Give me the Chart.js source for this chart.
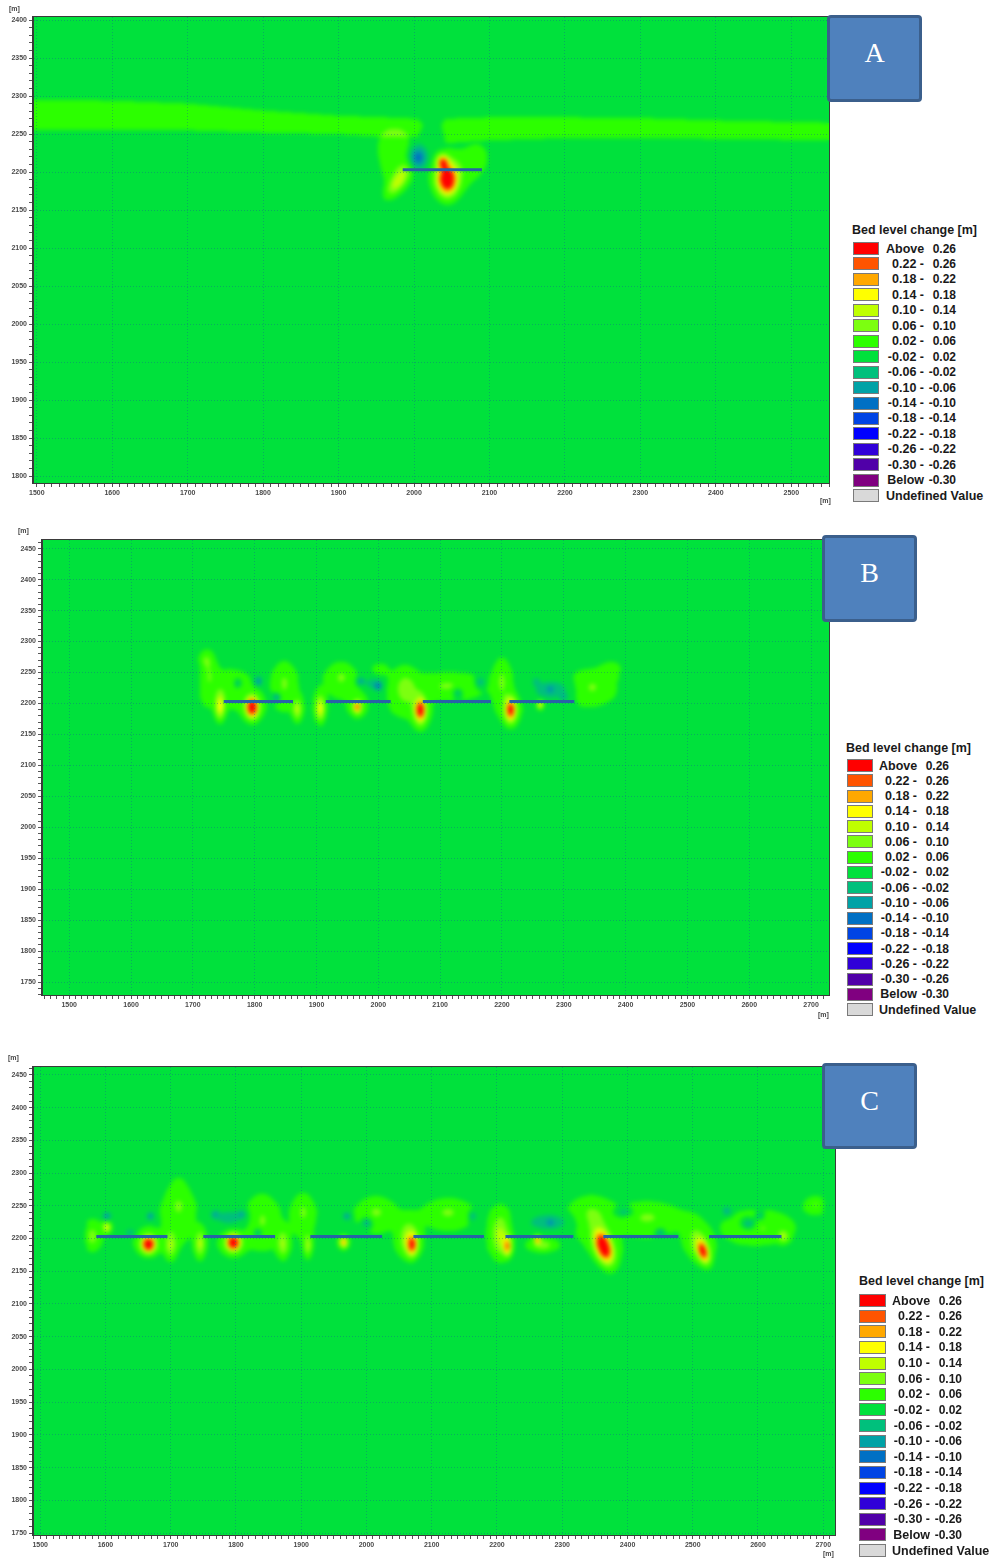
<!DOCTYPE html>
<html>
<head>
<meta charset="utf-8">
<title>Bed level change</title>
<script src="https://cdn.jsdelivr.net/npm/chart.js@4.4.0/dist/chart.umd.min.js"></script>
<style>
  html, body { margin: 0; padding: 0; background: #fff; }
  #page { position: relative; width: 993px; height: 1558px; overflow: hidden; font-family: "Liberation Sans", Arial, sans-serif; }
  #page canvas { position: absolute; }
  .unit { position: absolute; font-size: 7px; font-weight: bold; color: #444; line-height: 8px; white-space: nowrap; }
  .tag { position: absolute; box-sizing: border-box; background: #4f81bd; border: 3px solid #3b5f8c; border-radius: 4px;
         color: #fff; font-family: "Liberation Serif", "DejaVu Serif", serif; font-size: 28px; line-height: 28px; text-align: center; padding-top: 21px; }
  .legend { position: absolute; left: 0; top: 0; font-size: 12.5px; font-weight: bold; color: #1a1a1a; }
  .legend div, .legend span { position: absolute; white-space: nowrap; line-height: 14px; }
  .legend .num { font-size: 12px; }
  .legend .sw { box-sizing: border-box; border: 1px solid #7a7a7a; height: 13px; }
</style>
</head>
<body>
<div id="page">
  <canvas id="panelA" width="840" height="510" style="left:0;top:0"></canvas>
  <canvas id="panelB" width="840" height="502" style="left:0;top:520px"></canvas>
  <canvas id="panelC" width="845" height="513" style="left:0;top:1045px"></canvas>
</div>
<script>
// ---- classes of bed level change [m] ----
const classBreaks = [0.26, 0.22, 0.18, 0.14, 0.10, 0.06, 0.02, -0.02, -0.06, -0.10, -0.14, -0.18, -0.22, -0.26, -0.30];
const classColors = ['#ff0000', '#ff5400', '#ffa800', '#ffff00', '#bfff00', '#7cff10', '#2cff00', '#00e13c',
                     '#00c07c', '#00a2a6', '#0070c4', '#0044e4', '#0000ff', '#3000d8', '#5000a8', '#800080', '#d9d9d9'];
const legendLeft = ['Above', '0.22 -', '0.18 -', '0.14 -', '0.10 -', '0.06 -', '0.02 -', '-0.02 -', '-0.06 -',
                    '-0.10 -', '-0.14 -', '-0.18 -', '-0.22 -', '-0.26 -', '-0.30 -', 'Below', 'Undefined Value'];
const legendRight = ['0.26', '0.26', '0.22', '0.18', '0.14', '0.10', '0.06', '0.02', '-0.02',
                     '-0.06', '-0.10', '-0.14', '-0.18', '-0.22', '-0.26', '-0.30', ''];
const legendTitle = 'Bed level change [m]';

// ---- axis ticks ----
const xTicksA = [1500, 1600, 1700, 1800, 1900, 2000, 2100, 2200, 2300, 2400, 2500];
const yTicksA = [1800, 1850, 1900, 1950, 2000, 2050, 2100, 2150, 2200, 2250, 2300, 2350, 2400];
const xTicksBC = [1500, 1600, 1700, 1800, 1900, 2000, 2100, 2200, 2300, 2400, 2500, 2600, 2700];
const yTicksBC = [1750, 1800, 1850, 1900, 1950, 2000, 2050, 2100, 2150, 2200, 2250, 2300, 2350, 2400, 2450];

// ---- breakwaters: [x start, x end] along the crest line ----
const crestY = 2203;
const breakwatersA = [[1985, 2090]];
const breakwatersB = [[1750, 1862], [1915, 2020], [2072, 2182], [2212, 2317]];
const breakwatersC = [[1586, 1695], [1750, 1860], [1914, 2024], [2072, 2180], [2213, 2317], [2363, 2478], [2525, 2636]];

// ---- accretion bands (edges in m) ----
const bandAX      = [1495, 1600, 1700, 1800, 1900, 1960, 2005, 2012, 2036, 2042, 2100, 2200, 2300, 2400, 2550];
const bandATop    = [2295, 2294, 2290, 2281, 2274, 2272, 2270, 2262, 2262, 2270, 2272, 2272, 2271, 2268, 2265];
const bandABottom = [2255, 2255, 2255, 2252, 2250, 2246, 2246, 2262, 2262, 2238, 2242, 2245, 2245, 2244, 2242];
const bandBX      = [1712, 1760, 1900, 2050, 2200, 2330, 2390];
const bandBTop    = [2268, 2264, 2262, 2258, 2262, 2262, 2258];
const bandBBottom = [2182, 2176, 2175, 2170, 2172, 2180, 2196];
const bandCX      = [1572, 1700, 1900, 2100, 2300, 2500, 2700];
const bandCTop    = [2236, 2266, 2262, 2258, 2260, 2256, 2262];
const bandCBottom = [2182, 2172, 2172, 2170, 2170, 2170, 2186];

// ---- erosion / deposition patches: [x, y, spread x, spread y, change, tilt deg] ----
const blobsA = [
  [2044, 2190, 8, 12, 0.32],
  [2044, 2190, 13, 19, 0.05],
  [2038, 2213, 5, 6, 0.21],
  [2005, 2219, 8, 10, -0.14],
  [1979, 2188, 6, 15, 0.11, 35],
  [1978, 2212, 17, 25, 0.045],
  [1972, 2238, 14, 14, 0.03],
  [2058, 2205, 24, 19, 0.04],
  [2084, 2222, 10, 12, 0.03]
];
const blobsB = [
  [1796, 2194, 6, 10, 0.32],
  [1796, 2192, 11, 16, 0.05],
  [1744, 2195, 5, 14, 0.15],
  [1726, 2245, 9, 26, 0.045],
  [1720, 2272, 8, 9, 0.04],
  [1762, 2225, 18, 18, 0.035],
  [1806, 2236, 4, 5, -0.12],
  [1772, 2232, 4, 5, -0.08],
  [1836, 2210, 4, 4, -0.12],
  [1848, 2232, 11, 24, 0.05],
  [1869, 2190, 5, 12, 0.10],
  [1906, 2192, 5, 14, 0.14],
  [1940, 2242, 14, 17, 0.05],
  [1966, 2194, 4, 6, 0.20],
  [1966, 2198, 9, 14, 0.04],
  [1971, 2236, 4, 4, -0.10],
  [2000, 2228, 4, 5, -0.12],
  [1990, 2232, 10, 8, -0.05],
  [2003, 2256, 8, 6, 0.04],
  [2043, 2222, 14, 24, 0.06],
  [2068, 2190, 5, 11, 0.25],
  [2068, 2185, 9, 18, 0.08],
  [2112, 2228, 32, 12, 0.05],
  [2128, 2218, 5, 5, -0.08],
  [2165, 2234, 5, 6, -0.08],
  [2200, 2236, 9, 27, 0.05],
  [2214, 2190, 5, 11, 0.23],
  [2214, 2187, 9, 17, 0.07],
  [2280, 2222, 24, 12, -0.06],
  [2278, 2223, 4, 4, -0.06],
  [2300, 2210, 4, 4, -0.06],
  [2255, 2236, 4, 4, -0.05],
  [2262, 2198, 3, 4, 0.18],
  [2345, 2226, 20, 17, 0.05],
  [2378, 2256, 12, 8, 0.04]
];
const blobsC = [
  [1580, 2203, 8, 14, 0.06],
  [1602, 2217, 4, 5, 0.14],
  [1602, 2234, 4, 4, -0.11],
  [1669, 2234, 4, 4, -0.11],
  [1638, 2209, 5, 4, -0.07],
  [1666, 2191, 6, 7, 0.32],
  [1666, 2192, 11, 12, 0.07],
  [1700, 2190, 6, 14, 0.09],
  [1712, 2252, 14, 30, 0.05],
  [1745, 2192, 5, 14, 0.10],
  [1790, 2232, 20, 10, -0.05],
  [1809, 2237, 4, 4, -0.07],
  [1768, 2237, 4, 4, -0.07],
  [1796, 2194, 6, 7, 0.32],
  [1796, 2192, 11, 12, 0.07],
  [1834, 2209, 4, 4, -0.10],
  [1840, 2228, 14, 26, 0.05],
  [1872, 2192, 6, 14, 0.09],
  [1903, 2240, 10, 20, 0.05],
  [1910, 2190, 4, 12, 0.09],
  [1970, 2234, 4, 4, -0.10],
  [2001, 2224, 5, 5, -0.10],
  [1965, 2194, 4, 5, 0.20],
  [2015, 2240, 17, 16, 0.05],
  [2065, 2200, 10, 18, 0.10],
  [2070, 2190, 5, 10, 0.22],
  [2125, 2240, 21, 14, 0.05],
  [2163, 2234, 4, 5, -0.08],
  [2205, 2205, 9, 22, 0.10],
  [2216, 2188, 4, 9, 0.20],
  [2280, 2225, 26, 10, -0.06],
  [2282, 2224, 4, 4, -0.06],
  [2262, 2198, 3, 4, 0.20],
  [2270, 2190, 12, 6, 0.07],
  [2345, 2236, 21, 20, 0.05],
  [2363, 2188, 7, 15, 0.30, -18],
  [2365, 2185, 12, 22, 0.08, -18],
  [2395, 2240, 10, 5, -0.07],
  [2450, 2209, 4, 4, -0.09],
  [2430, 2232, 28, 15, 0.05],
  [2516, 2180, 5, 11, 0.24, -18],
  [2510, 2190, 11, 21, 0.08, -18],
  [2552, 2242, 5, 5, -0.08],
  [2586, 2222, 8, 6, -0.10],
  [2603, 2234, 4, 4, -0.08],
  [2600, 2216, 28, 14, 0.05],
  [2639, 2203, 5, 6, 0.09],
  [2688, 2252, 10, 8, 0.05]
];

// ---- helpers ----
function hexRgb(h) { const n = parseInt(h.slice(1), 16); return [(n >> 16) & 255, (n >> 8) & 255, n & 255]; }
const classRgb = classColors.map(hexRgb);
function classOf(v) {
  for (let i = 0; i < classBreaks.length; i++) if (v >= classBreaks[i]) return i;
  return classBreaks.length;
}

// Paints the gridded bed level change inside the plot area, using the chart's scales.
const bedField = {
  id: 'bedField',
  beforeDraw(chart, _args, opts) {
    const a = chart.chartArea, xs = chart.scales.x, ys = chart.scales.y, ctx = chart.ctx;
    const L = Math.round(a.left), T = Math.round(a.top);
    const W = Math.round(a.right) - L, H = Math.round(a.bottom) - T;
    if (!chart.$fieldImage) {
      const v = new Float32Array(W * H);
      const band = opts.band;
      if (band) {
        const bx = band.x, bt = band.top, bb = band.bottom;
        const soft = Math.abs(ys.getPixelForValue(band.soft) - ys.getPixelForValue(0));
        for (let i = 0; i < W; i++) {
          const mx = xs.getValueForPixel(L + i + 0.5);
          if (mx < bx[0] || mx > bx[bx.length - 1]) continue;
          let k = 0;
          while (k < bx.length - 2 && mx > bx[k + 1]) k++;
          const f = (mx - bx[k]) / (bx[k + 1] - bx[k]);
          const top = bt[k] + f * (bt[k + 1] - bt[k]);
          const bot = bb[k] + f * (bb[k + 1] - bb[k]);
          const p0 = ys.getPixelForValue(top) - T, p1 = ys.getPixelForValue(bot) - T;
          if (p1 - p0 < 0.5) continue;
          const e0 = p0 - soft, e1 = p1 + soft;
          for (let j = Math.max(0, Math.floor(e0)); j < Math.min(H, Math.ceil(e1)); j++) {
            const y = j + 0.5;
            let wgt = 1;
            if (soft > 0) wgt = Math.max(0, Math.min(1, (y - e0) / (2 * soft), (e1 - y) / (2 * soft)));
            else if (y < p0 || y > p1) wgt = 0;
            v[j * W + i] += band.level * wgt;
          }
        }
      }
      for (const b of opts.blobs) {
        const [x0, y0, sx, sy, amp, rot = 0] = b;
        const cx = xs.getPixelForValue(x0) - L, cy = ys.getPixelForValue(y0) - T;
        const rx = Math.abs(xs.getPixelForValue(x0 + sx) - xs.getPixelForValue(x0));
        const ry = Math.abs(ys.getPixelForValue(y0 + sy) - ys.getPixelForValue(y0));
        const t = rot * Math.PI / 180, c = Math.cos(t), s = Math.sin(t);
        const R = 3.5 * Math.max(rx, ry);
        const i0 = Math.max(0, Math.floor(cx - R)), i1 = Math.min(W - 1, Math.ceil(cx + R));
        const j0 = Math.max(0, Math.floor(cy - R)), j1 = Math.min(H - 1, Math.ceil(cy + R));
        for (let j = j0; j <= j1; j++) {
          const dy = j + 0.5 - cy;
          for (let i = i0; i <= i1; i++) {
            const dx = i + 0.5 - cx;
            const u = (dx * c + dy * s) / rx, w = (dx * s - dy * c) / ry;
            v[j * W + i] += amp * Math.exp(-0.5 * (u * u + w * w));
          }
        }
      }
      const off = document.createElement('canvas');
      off.width = W; off.height = H;
      const octx = off.getContext('2d');
      const img = octx.createImageData(W, H);
      for (let k = 0; k < v.length; k++) {
        const col = classRgb[classOf(v[k])];
        img.data[4 * k] = col[0]; img.data[4 * k + 1] = col[1]; img.data[4 * k + 2] = col[2]; img.data[4 * k + 3] = 255;
      }
      octx.putImageData(img, 0, 0);
      chart.$fieldImage = off;
    }
    ctx.save();
    ctx.beginPath(); ctx.rect(L, T, W, H); ctx.clip();
    ctx.drawImage(chart.$fieldImage, L, T);
    ctx.filter = 'blur(2px)';
    ctx.drawImage(chart.$fieldImage, L, T);
    ctx.restore();
  }
};

// Closes the plot frame on all four sides.
const plotFrame = {
  id: 'plotFrame',
  afterDraw(chart) {
    const a = chart.chartArea, ctx = chart.ctx;
    ctx.save();
    ctx.strokeStyle = '#3a3a3a'; ctx.lineWidth = 1;
    ctx.strokeRect(Math.round(a.left) - 0.5, Math.round(a.top) - 0.5, Math.round(a.right - a.left) + 1, Math.round(a.bottom - a.top) + 1);
    ctx.restore();
  }
};

function axisOptions(min, max, majors, minorStep, fitSize, isX) {
  return {
    type: 'linear', min, max,
    afterBuildTicks(scale) {
      const t = [];
      for (let val = Math.ceil(min / minorStep) * minorStep; val <= max; val += minorStep) t.push({ value: val });
      scale.ticks = t;
    },
    afterFit(scale) { if (isX) scale.height = fitSize; else scale.width = fitSize; },
    ticks: {
      autoSkip: false, maxRotation: 0, minRotation: 0, padding: 2,
      color: '#4a4a4a', font: { family: 'Liberation Sans', size: 7, weight: 'bold' },
      callback: (val) => majors.includes(val) ? String(val) : ''
    },
    grid: {
      drawOnChartArea: true, drawTicks: true, tickLength: 4, lineWidth: 1,
      color: (c) => (c.tick && majors.includes(c.tick.value)) ? 'rgba(20,90,150,0.38)' : 'rgba(0,0,0,0)',
      tickColor: '#555', tickWidth: 1
    },
    border: { display: true, color: '#3a3a3a', width: 1, dash: [1, 2] }
  };
}

function makePanel(id, p) {
  const datasets = p.breakwaters.map(([x0, x1]) => ({
    data: [{ x: x0, y: crestY }, { x: x1, y: crestY }],
    showLine: true, borderColor: '#2763a6', borderWidth: 3, pointRadius: 0, borderCapStyle: 'butt'
  }));
  return new Chart(document.getElementById(id), {
    type: 'scatter',
    data: { datasets },
    options: {
      responsive: false, animation: false, devicePixelRatio: 1,
      layout: { padding: p.padding },
      plugins: {
        legend: { display: false }, tooltip: { enabled: false },
        bedField: { blobs: p.blobs, band: p.band }
      },
      scales: {
        x: axisOptions(p.x[0], p.x[1], p.xTicks, 10, p.xAxisH, true),
        y: axisOptions(p.y[0], p.y[1], p.yTicks, 10, p.yAxisW, false)
      }
    },
    plugins: [bedField, plotFrame]
  });
}

makePanel('panelA', {
  x: [1495, 2550], y: [1791, 2404], xTicks: xTicksA, yTicks: yTicksA,
  padding: { left: 0, top: 17, right: 11, bottom: 7 }, xAxisH: 20, yAxisW: 33,
  breakwaters: breakwatersA, blobs: blobsA,
  band: { x: bandAX, top: bandATop, bottom: bandABottom, level: 0.04, soft: 0 }
});
makePanel('panelB', {
  x: [1456, 2729], y: [1729, 2464], xTicks: xTicksBC, yTicks: yTicksBC,
  padding: { left: 0, top: 20, right: 11, bottom: 7 }, xAxisH: 20, yAxisW: 42,
  breakwaters: breakwatersB, blobs: blobsB,
  band: { x: bandBX, top: bandBTop, bottom: bandBBottom, level: 0.014, soft: 15 }
});
makePanel('panelC', {
  x: [1489, 2718], y: [1747, 2462], xTicks: xTicksBC, yTicks: yTicksBC,
  padding: { left: 0, top: 22, right: 10, bottom: 5 }, xAxisH: 18, yAxisW: 33,
  breakwaters: breakwatersC, blobs: blobsC,
  band: { x: bandCX, top: bandCTop, bottom: bandCBottom, level: 0.014, soft: 15 }
});

// ---- page furniture: unit labels, panel tags, legends ----
const page = document.getElementById('page');
function addDiv(cls, text, css) {
  const d = document.createElement('div');
  d.className = cls; d.textContent = text; Object.assign(d.style, css); page.appendChild(d); return d;
}
[[9, 5], [820, 497], [18, 527], [818, 1011], [8, 1054], [823, 1550]].forEach(([l, t]) =>
  addDiv('unit', '[m]', { left: l + 'px', top: t + 'px' }));

[['A', 827, 15, 95, 87], ['B', 822, 535, 95, 87], ['C', 822, 1063, 95, 86]].forEach(([s, l, t, w, h]) =>
  addDiv('tag', s, { left: l + 'px', top: t + 'px', width: w + 'px', height: h + 'px' }));

function addLegend(titleX, titleTop, swX, swW, textX, firstTop, step) {
  const box = document.createElement('div');
  box.className = 'legend';
  page.appendChild(box);
  const t = document.createElement('div');
  t.textContent = legendTitle; t.style.left = titleX + 'px'; t.style.top = titleTop + 'px';
  box.appendChild(t);
  legendLeft.forEach((lab, i) => {
    const top = firstTop + i * step;
    const sw = document.createElement('div');
    sw.className = 'sw';
    Object.assign(sw.style, { left: swX + 'px', top: top + 'px', width: swW + 'px', background: classColors[i] });
    box.appendChild(sw);
    const l = document.createElement('span');
    l.textContent = lab;
    if (legendRight[i]) {
      Object.assign(l.style, { left: textX + 'px', top: (top - 0.5) + 'px', width: '38px', textAlign: 'right' });
      const r = document.createElement('span');
      r.className = 'num';
      r.textContent = legendRight[i];
      Object.assign(r.style, { left: (textX + 39) + 'px', top: (top - 0.5) + 'px', width: '31px', textAlign: 'right' });
      box.appendChild(r);
    } else {
      Object.assign(l.style, { left: textX + 'px', top: (top - 0.5) + 'px' });
    }
    box.appendChild(l);
  });
}
addLegend(852, 223, 853, 26, 886, 242, 15.45);
addLegend(846, 741, 847, 26, 879, 759, 15.25);
addLegend(859, 1274, 859, 27, 892, 1294, 15.63);
</script>
</body>
</html>
